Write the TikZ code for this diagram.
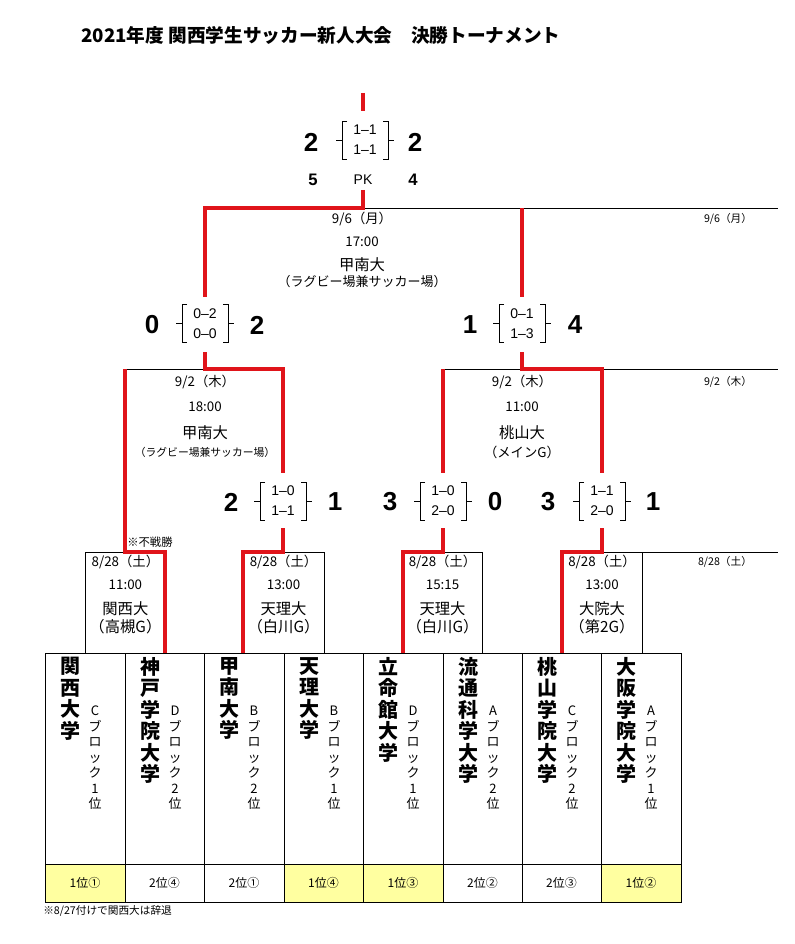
\documentclass[tikz,border=0pt]{standalone}
\usepackage{fontspec}
\setmainfont{Noto Sans CJK JP}
\newfontfamily\arial{Liberation Sans}
\definecolor{tred}{RGB}{224,20,26}
\definecolor{ylw}{RGB}{255,255,160}
\newcommand\scbr[5]{%
  \draw[thinl] ({#1-18},{#2-19}) -- ({#1-23},{#2-19}) -- ({#1-23},{#2+19}) -- ({#1-18},{#2+19});
  \draw[thinl] ({#1-23},{#2}) -- ({#1-29},{#2});
  \draw[thinl] ({#1+18},{#2-19}) -- ({#1+23},{#2-19}) -- ({#1+23},{#2+19}) -- ({#1+18},{#2+19});
  \draw[thinl] ({#1+23},{#2}) -- ({#1+29},{#2});
  \node[brtxt] (#5a) at (#1,{#2-10}) {#3};
  \node[brtxt] (#5b) at (#1,{#2+10}) {#4};
}
\begin{document}
\begin{tikzpicture}[x=0.75pt,y={(0pt,-0.75pt)},
  redl/.style={draw=tred,line width=3pt},
  blkl/.style={draw=black,line width=0.75pt},
  thinl/.style={draw=black,line width=0.6pt},
  t/.style={inner sep=0pt,anchor=center},
  date/.style={t,font=\fontsize{10}{12}\selectfont},
  venue/.style={t,font=\fontsize{11.5}{13}\selectfont},
  small/.style={t,font=\fontsize{8}{10}\selectfont},
  big/.style={t,font=\arial\bfseries\fontsize{19.5}{20}\selectfont},
  pkn/.style={t,font=\arial\bfseries\fontsize{12.5}{14}\selectfont},
  brtxt/.style={t,font=\arial\fontsize{10.5}{12}\selectfont},
  tname/.style={inner sep=0pt,anchor=north,align=center,font=\bfseries\fontsize{15}{16.1}\selectfont},
  tblock/.style={inner sep=0pt,anchor=north,align=center,font=\fontsize{9.75}{11.6}\selectfont},
  rank/.style={t,font=\fontsize{9}{11}\selectfont}]
\useasboundingbox (0,0) rectangle (794,944);
\fill[white] (0,0) rectangle (794,944);
% title
\node[t,font=\bfseries\fontsize{14}{16}\selectfont] (title) at (321,35) {2021年度 関西学生サッカー新人大会　決勝トーナメント};
% table
\fill[ylw] (45,864) rectangle (125,902);
\fill[ylw] (284,864) rectangle (443,902);
\fill[ylw] (601,864) rectangle (681,902);
\draw[blkl] (45,653) rectangle (681,902);
\draw[blkl] (45,864) -- (681,864);
\foreach \x in {125,204,284,363,443,522,601} \draw[blkl] (\x,653) -- (\x,902);
% black frame lines
\draw[blkl] (85.7,552) -- (165,552) (85.7,552) -- (85.7,653);
\draw[blkl] (243,552) -- (324,552) -- (324,653);
\draw[blkl] (403,552) -- (482,552) -- (482,653);
\draw[blkl] (562,552) -- (778,552) (642,552) -- (642,653);
\draw[blkl] (125,369) -- (283,369);
\draw[blkl] (443,369) -- (778,369);
\draw[blkl] (205,208.5) -- (778,208.5);
% red winner paths
\draw[redl] (363,93) -- (363,111);
\draw[redl] (363,190) -- (363,208.5) -- (205,208.5) -- (205,297);
\draw[redl] (522,208.5) -- (522,297);
\draw[redl] (205,352) -- (205,369) -- (283,369) -- (283,473);
\draw[redl] (125,369) -- (125,552) -- (165,552) -- (165,653);
\draw[redl] (522,352) -- (522,369) -- (602,369) -- (602,473);
\draw[redl] (443,369) -- (443,473);
\draw[redl] (283,528) -- (283,552) -- (243,552) -- (243,653);
\draw[redl] (443,528) -- (443,552) -- (403,552) -- (403,653);
\draw[redl] (602,528) -- (602,552) -- (562,552) -- (562,653);
% final
\scbr{365}{140}{1–1}{1–1}{fb}
\node[big] (fl) at (311,142) {2};
\node[big] (fr) at (415,142) {2};
\node[pkn] (pkl) at (313,180) {5};
\node[t,font=\arial\fontsize{10.5}{12}\selectfont] (pk) at (363,180) {PK};
\node[pkn] (pkr) at (413,180) {4};
\node[date] (d1) at (362,219) {9/6（月）};
\node[date] (h1) at (362,242) {17:00};
\node[venue] (v1) at (362,265) {甲南大};
\node[t,font=\fontsize{9.75}{11}\selectfont] (p1) at (362,282) {（ラグビー場兼サッカー場）};
\node[small] (r1) at (728,219) {9/6（月）};
% semifinals
\scbr{205}{323.5}{0–2}{0–0}{sl}
\node[big] (sl1) at (152,325) {0};
\node[big] (sl2) at (257,325) {2};
\scbr{522}{323.5}{0–1}{1–3}{sr}
\node[big] (sr1) at (470,325) {1};
\node[big] (sr2) at (575,325) {4};
\node[date] (d2) at (205,382) {9/2（木）};
\node[date] (h2) at (205,407) {18:00};
\node[venue] (v2) at (205,433) {甲南大};
\node[t,font=\fontsize{8.1}{10}\selectfont] (p2) at (205,452) {（ラグビー場兼サッカー場）};
\node[date] (d3) at (522,382) {9/2（木）};
\node[date] (h3) at (522,407) {11:00};
\node[venue] (v3) at (522,433) {桃山大};
\node[t,font=\fontsize{10}{12}\selectfont] (p3) at (522,452) {（メインG）};
\node[small] (r2) at (728,382) {9/2（木）};
% quarterfinals
\scbr{283}{501}{1–0}{1–1}{q1}
\node[big] (q1l) at (231,502) {2};
\node[big] (q1r) at (335,502) {1};
\scbr{443}{501}{1–0}{2–0}{q2}
\node[big] (q2l) at (390,502) {3};
\node[big] (q2r) at (495,502) {0};
\scbr{602}{501}{1–1}{2–0}{q3}
\node[big] (q3l) at (548,502) {3};
\node[big] (q3r) at (653,502) {1};
\node[t,anchor=west,font=\fontsize{8.5}{10}\selectfont] (fus) at (127,542) {※不戦勝};
% first round boxes
\foreach \cx/\hh/\vv/\pp [count=\i] in {125.4/11:00/関西大/（高槻G）,283.5/13:00/天理大/（白川G）,442.5/15:15/天理大/（白川G）,602/13:00/大院大/（第2G）}{
  \node[date] (bd\i) at (\cx,562) {8/28（土）};
  \node[date] (bh\i) at (\cx,585) {\hh};
  \node[venue] (bv\i) at (\cx,609) {\vv};
  \node[venue] (bp\i) at (\cx,627) {\pp};
}
\node[small] (r3) at (725,562) {8/28（土）};
% teams
\foreach \lx/\nm/\bl [count=\i] in {
  45/{関\\西\\大\\学}/{C\\ブ\\ロ\\ッ\\ク\\1\\位},
  125/{神\\戸\\学\\院\\大\\学}/{D\\ブ\\ロ\\ッ\\ク\\2\\位},
  204/{甲\\南\\大\\学}/{B\\ブ\\ロ\\ッ\\ク\\2\\位},
  284/{天\\理\\大\\学}/{B\\ブ\\ロ\\ッ\\ク\\1\\位},
  363/{立\\命\\館\\大\\学}/{D\\ブ\\ロ\\ッ\\ク\\1\\位},
  443/{流\\通\\科\\学\\大\\学}/{A\\ブ\\ロ\\ッ\\ク\\2\\位},
  522/{桃\\山\\学\\院\\大\\学}/{C\\ブ\\ロ\\ッ\\ク\\2\\位},
  601/{大\\阪\\学\\院\\大\\学}/{A\\ブ\\ロ\\ッ\\ク\\1\\位}}{
  \node[tname] (tn\i) at (\lx+25,657) {\nm};
  \node[tblock] (tb\i) at (\lx+50,706) {\bl};
}
\foreach \cx/\rk [count=\i] in {85/1位①,164.5/2位④,244/2位①,323.5/1位④,403/1位③,482.5/2位②,561.5/2位③,641/1位②}
  \node[rank] (rk\i) at (\cx,883) {\rk};
\node[t,anchor=west,font=\fontsize{8}{10}\selectfont] (note) at (43,911) {※8/27付けで関西大は辞退};
\end{tikzpicture}
\end{document}
